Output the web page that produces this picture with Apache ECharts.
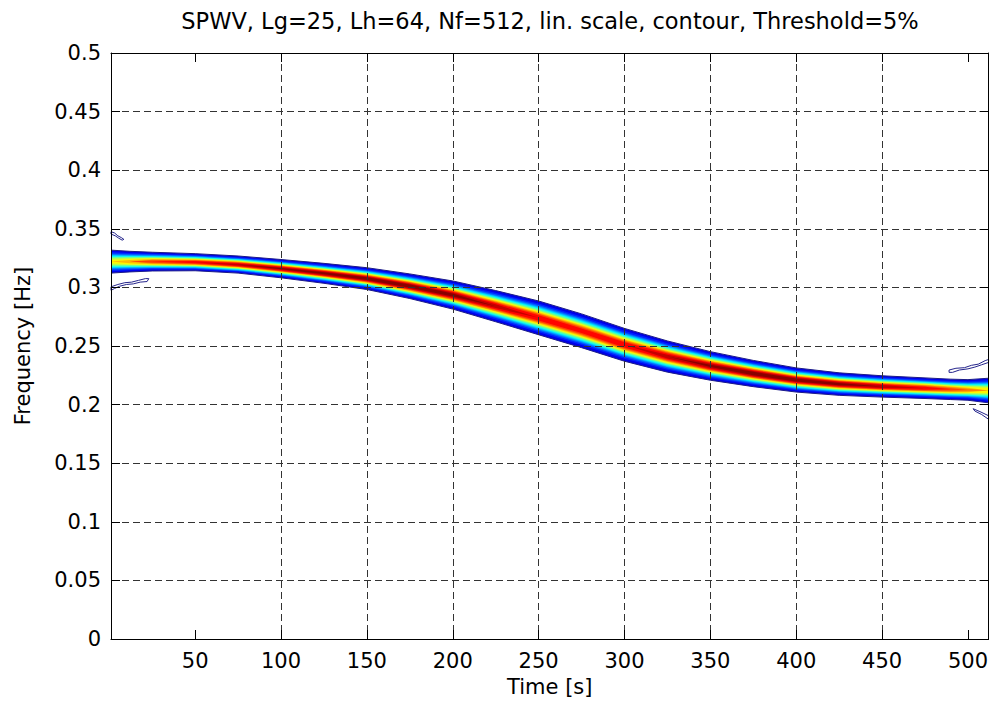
<!DOCTYPE html>
<html><head><meta charset="utf-8">
<script src="https://cdn.jsdelivr.net/npm/echarts@6/dist/echarts.min.js"></script>
<style>html,body{margin:0;padding:0;background:#fff}#c{width:991px;height:705px}</style>
</head><body><div id="c"></div>
<script>
const titleText = 'SPWV, Lg=25, Lh=64, Nf=512, lin. scale, contour, Threshold=5%';
const xName = 'Time [s]';
const yName = 'Frequency [Hz]';
const xTicks = [50, 100, 150, 200, 250, 300, 350, 400, 450, 500];

// ridge of the distribution
const timeS       = [1, 12, 25, 50, 75, 100, 125, 150, 175, 200, 225, 250, 275, 300, 325, 350, 375, 400, 425, 450, 475, 490, 500, 512];
const ridgeHz     = [0.322, 0.322, 0.322, 0.3215, 0.3195, 0.316, 0.312, 0.3075, 0.301, 0.2935, 0.284, 0.274, 0.263, 0.251, 0.241, 0.233, 0.2265, 0.221, 0.2175, 0.2155, 0.214, 0.213, 0.2125, 0.212];
const peakLevel   = [0.62, 0.7, 0.8, 0.87, 0.92, 0.96, 0.98, 1.0, 1.0, 0.98, 0.93, 0.89, 0.87, 0.89, 0.93, 0.97, 1.0, 1.0, 0.98, 0.94, 0.88, 0.8, 0.74, 0.65];
const halfWidthHz = [0.0098, 0.0088, 0.008, 0.0073, 0.0073, 0.0078, 0.0085, 0.0093, 0.0105, 0.012, 0.0133, 0.0144, 0.0144, 0.014, 0.0133, 0.0122, 0.0112, 0.0103, 0.0096, 0.0091, 0.0088, 0.0087, 0.0088, 0.0105];
const contourLevels = [0.05, 0.11, 0.17, 0.23, 0.29, 0.35, 0.41, 0.47, 0.53, 0.59, 0.65, 0.71, 0.77, 0.83, 0.89, 0.95];

// small spurious contours at the edges
const contourUL = [[1,0.3475],[3,0.3465],[5,0.344],[7,0.3425],[8.5,0.341],[7.5,0.3403],[5.5,0.342],[3.5,0.344],[1,0.3455],[1,0.3475]];
const contourLL = [[1,0.3005],[5,0.3025],[9,0.304],[13,0.3045],[17,0.306],[21,0.3075],[23,0.3075],[22,0.305],[18,0.3045],[14,0.303],[10,0.3025],[6,0.301],[3,0.299],[1,0.2975],[1,0.3005]];
const contourUR = [[489,0.2295],[493,0.231],[498,0.2315],[502,0.2335],[506,0.2345],[510,0.2375],[512,0.2385],[512,0.236],[508,0.234],[504,0.232],[500,0.2305],[495,0.2295],[491,0.2275],[489,0.2275],[489,0.2295]];
const contourLR = [[503,0.1965],[507,0.194],[512,0.1905],[512,0.1875],[508,0.1915],[504,0.1945],[503,0.1965]];

const FONT = '"DejaVu Sans", sans-serif';
const FS = 21;
const jet = ['#00008f','#0000ff','#0080ff','#00ffff','#80ff80','#ffff00','#ff8000','#ff0000','#800000'];

function renderBand(params, api) {
  const L = api.value(0);
  const upper = [], lower = [];
  for (let i = 0; i < timeS.length; i++) {
    const A = peakLevel[i];
    const w = A > L ? halfWidthHz[i] * Math.sqrt(Math.log(A / L) / Math.log(A / contourLevels[0])) : 0;
    upper.push(api.coord([timeS[i], ridgeHz[i] + w]));
    lower.push(api.coord([timeS[i], ridgeHz[i] - w]));
  }
  const pts = upper.concat(lower.reverse());
  const first = params.dataIndex === 0;
  return {
    type: 'polygon',
    shape: { points: pts },
    style: { fill: api.visual('color'), stroke: first ? '#1c1c88' : null, lineWidth: first ? 1 : 0 }
  };
}

const lineStyleAxis = { color: '#000', width: 1 };
function xAx(pos, main) {
  return {
    type: 'value', min: 1, max: 512, position: pos, z: 5,
    axisLine: { show: true, onZero: false, lineStyle: lineStyleAxis },
    axisTick: { show: true, inside: true, length: 9, customValues: xTicks, lineStyle: lineStyleAxis },
    axisLabel: { show: main, customValues: xTicks, color: '#000', fontSize: FS, fontFamily: FONT, margin: 11 },
    splitLine: { show: main, showMinLine: false, showMaxLine: false, lineStyle: { color: '#333', width: 1, type: [7, 4] } },
    name: main ? xName : '', nameLocation: 'middle', nameGap: 37,
    nameTextStyle: { color: '#000', fontSize: FS, fontFamily: FONT }
  };
}
function yAx(pos, main) {
  return {
    type: 'value', min: 0, max: 0.5, interval: 0.05, position: pos, z: 5,
    axisLine: { show: true, onZero: false, lineStyle: lineStyleAxis },
    axisTick: { show: true, inside: true, length: 9, lineStyle: lineStyleAxis },
    axisLabel: { show: main, color: '#000', fontSize: FS, fontFamily: FONT, margin: 10,
      formatter: v => String(+v.toFixed(2)) },
    splitLine: { show: main, showMinLine: false, showMaxLine: false, lineStyle: { color: '#333', width: 1, type: [7, 4] } },
    name: main ? yName : '', nameLocation: 'middle', nameGap: 78, nameRotate: 90,
    nameTextStyle: { color: '#000', fontSize: FS, fontFamily: FONT }
  };
}

function edgeLine(data) {
  return { type: 'line', data: data, xAxisIndex: 0, yAxisIndex: 0, showSymbol: false, symbol: 'none',
    lineStyle: { color: '#24248c', width: 1 }, clip: true, z: 3, silent: true };
}

const chart = echarts.init(document.getElementById('c'), null, { renderer: 'svg', width: 991, height: 705 });
chart.setOption({
  animation: false,
  backgroundColor: '#fff',
  grid: { left: 111, right: 2, top: 53, bottom: 66, containLabel: false },
  graphic: { elements: [{
    type: 'text', x: 550, y: 21, silent: true,
    style: { text: titleText, fill: '#000', fontSize: 22.5, fontFamily: FONT, align: 'center', verticalAlign: 'middle' }
  }]},
  xAxis: [xAx('bottom', true), xAx('top', false)],
  yAxis: [yAx('left', true), yAx('right', false)],
  visualMap: { type: 'continuous', show: false, seriesIndex: 0, dimension: 0, min: -0.05, max: 0.96, inRange: { color: jet } },
  series: [
    { type: 'custom', xAxisIndex: 0, yAxisIndex: 0, clip: true, z: 2, silent: true,
      data: contourLevels.map(l => [l]), renderItem: renderBand },
    edgeLine(contourUL), edgeLine(contourLL), edgeLine(contourUR), edgeLine(contourLR)
  ]
});
</script></body></html>
